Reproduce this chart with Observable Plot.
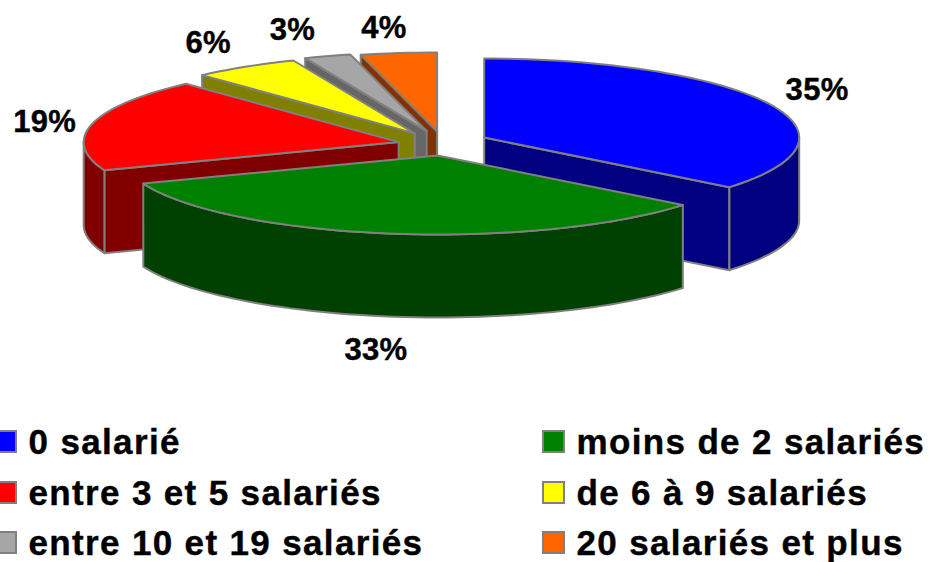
<!DOCTYPE html>
<html><head><meta charset="utf-8">
<script src="https://cdn.jsdelivr.net/npm/d3@7"></script>
<script src="https://cdn.jsdelivr.net/npm/@observablehq/plot@0.6"></script>
<style>html,body{margin:0;padding:0;background:#fff}svg{display:block}
.legend-text text{letter-spacing:1.35px}.pct-text text{letter-spacing:.3px}</style>
</head><body><div id="chart"></div>
<script>
const categories = ["0 salarié","moins de 2 salariés","entre 3 et 5 salariés","de 6 à 9 salariés","entre 10 et 19 salariés","20 salariés et plus"];
const labels = ["35%","33%","19%","6%","3%","4%"];
const shares = [35.8,33.4,19.0,5.5,2.4,3.9];
const topColors = ["#0000ff","#008000","#ff0000","#ffff00","#a6a6a6","#ff6600"];
const wallColors = ["#000080","#004000","#800000","#808000","#666666","#803300"];

// layout of the exploded oblique pie
const cx=444, cy=142.5, rx=315, ry=79, ex=44, ey=12.6, depth=83;
const apexNudge=[[0,0],[0,0],[-3,2],[-6,1],[-4,0],[-2,1]];
const rad = d => d*Math.PI/180;
let acc=0;
const slices = shares.map((s,i)=>{
  const a0=acc*3.6; acc+=s; const a1=acc*3.6; const mid=(a0+a1)/2;
  return {i,a0,a1,mid,
    ax:cx+ex*Math.sin(rad(mid))+apexNudge[i][0],
    ay:cy-ey*Math.cos(rad(mid))+apexNudge[i][1]};
});
const rim=(s,a)=>({x:s.ax+rx*Math.sin(rad(a)),y:s.ay-ry*Math.cos(rad(a))});
const down=(p)=>({x:p.x,y:p.y+depth});
const arc=(s,a0,a1)=>{const n=Math.max(2,Math.ceil((a1-a0)/2));return d3.range(n+1).map(k=>rim(s,a0+(a1-a0)*k/n));};
const close=p=>[...p,p[0]];

const marks=[];
const face=(pts,fill)=>marks.push(Plot.line(close(pts),{x:"x",y:"y",fill,stroke:"#808080",strokeWidth:2,strokeLinejoin:"round",curve:"linear"}));
// back to front
[5,4,3,2,0,1].forEach(i=>{
  const s=slices[i], apex={x:s.ax,y:s.ay}, w=wallColors[i];
  // cut faces
  if(Math.sin(rad(s.a0))<-1e-6){const p=rim(s,s.a0);face([apex,p,down(p),down(apex)],w);}
  if(Math.sin(rad(s.a1))>1e-6){const p=rim(s,s.a1);face([apex,p,down(p),down(apex)],w);}
  // outer wall
  const lo=Math.max(s.a0,90), hi=Math.min(s.a1,270);
  if(hi>lo){const a=arc(s,lo,hi);face([...a,...a.map(down).reverse()],w);}
  // top
  face([apex,...arc(s,s.a0,s.a1)],topColors[i]);
});

// percent labels placed radially around the pie
const labelNudge=[[0,-1],[-4,-2],[2,7],[-14,2],[-22,2],[-10,5]];
const labelData=slices.map((s,i)=>{
  const sn=Math.sin(rad(s.mid)), cs=Math.cos(rad(s.mid));
  const extra = cs<-0.9 ? depth+37 : 29;
  return {t:labels[i],
    x:cx+sn*(ex+rx+54)+labelNudge[i][0],
    y:cy-cs*(ey+ry+extra)+labelNudge[i][1]};
});
marks.push(Plot.text(labelData,{x:"x",y:"y",text:"t",fontSize:31,fontWeight:"bold",fontFamily:"Liberation Sans, Arial, sans-serif",fill:"black",stroke:"black",strokeWidth:0.4,className:"pct-text"}));

// legend, two columns by three rows
const legend=categories.map((c,i)=>{
  const col=i%2,row=Math.floor(i/2);
  const x0=col?543:-5, y0=[431,482,532][row];
  return {c,x0,x1:x0+21,y0,y1:y0+21,tx:x0+33,ty:y0+11,fill:topColors[i]};
});
legend.forEach(l=>marks.push(Plot.rect([l],{x1:"x0",x2:"x1",y1:"y0",y2:"y1",fill:l.fill,stroke:"#808080",strokeWidth:2})));
marks.push(Plot.text(legend,{x:"tx",y:"ty",text:"c",textAnchor:"start",fontSize:35,fontWeight:"bold",fontFamily:"Liberation Sans, Arial, sans-serif",fill:"black",stroke:"black",strokeWidth:0.4,className:"legend-text"}));

const chart=Plot.plot({width:930,height:562,margin:0,
  x:{domain:[0,930],range:[0,930],axis:null},
  y:{domain:[0,562],range:[0,562],axis:null},
  style:{background:"white"},
  marks});
document.getElementById("chart").append(chart);
</script></body></html>
